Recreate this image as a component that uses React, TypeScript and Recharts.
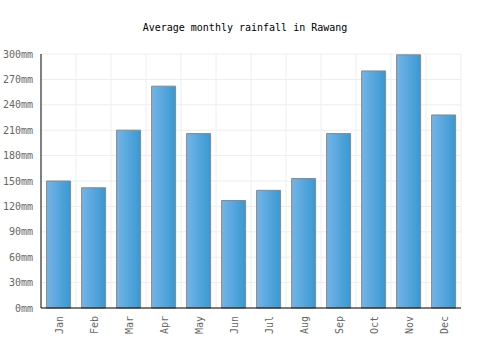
import React from 'react';
import { BarChart, Bar, XAxis, YAxis, CartesianGrid } from 'recharts';

const months = ['Jan', 'Feb', 'Mar', 'Apr', 'May', 'Jun', 'Jul', 'Aug', 'Sep', 'Oct', 'Nov', 'Dec'];
const rainfall = [150, 142, 210, 262, 206, 127, 139, 153, 206, 280, 299, 228];
const yTicks = [0, 30, 60, 90, 120, 150, 180, 210, 240, 270, 300];

const data = months.map((m, i) => ({ month: m, rain: rainfall[i] }));

const FONT = '"DejaVu Sans Mono", monospace';

const MonthTick = ({ x, y, payload }: any) => (
  <text
    x={x}
    y={y}
    transform={`rotate(-90 ${x} ${y})`}
    dx={0}
    dy={4}
    textAnchor="end"
    fontFamily={FONT}
    fontSize={10}
    fill="#666"
  >
    {payload.value}
  </text>
);

export default function App() {
  return (
    <div style={{ position: 'absolute', left: 0, top: 0, width: 500, height: 350, background: '#fff' }}>
      <div
        style={{
          position: 'absolute',
          top: 22,
          width: 490,
          textAlign: 'center',
          fontFamily: FONT,
          fontSize: 10,
          color: '#000',
        }}
      >
        Average monthly rainfall in Rawang
      </div>
      <BarChart
        width={500}
        height={350}
        data={data}
        margin={{ top: 54, right: 39, bottom: 0, left: 0 }}
        barCategoryGap="16%"
      >
        <defs>
          <linearGradient id="barFill" x1="0" y1="0" x2="1" y2="0">
            <stop offset="0%" stopColor="#72b5e9" />
            <stop offset="100%" stopColor="#3a98d1" />
          </linearGradient>
        </defs>
        <CartesianGrid
          stroke="#eeeeee"
          verticalCoordinatesGenerator={({ offset }: any) =>
            months.map((_, i) => offset.left + ((i + 1) * offset.width) / months.length)
          }
        />
        <XAxis
          dataKey="month"
          height={42}
          interval={0}
          tickLine={false}
          axisLine={{ stroke: '#000' }}
          tick={<MonthTick />}
        />
        <YAxis
          width={41}
          domain={[0, 300]}
          ticks={yTicks}
          interval={0}
          tickLine={false}
          tickSize={0}
          tickMargin={8}
          axisLine={{ stroke: '#000' }}
          tickFormatter={(v: number) => `${v}mm`}
          tick={{ fontFamily: FONT, fontSize: 10, fill: '#666' }}
        />
        <Bar dataKey="rain" fill="url(#barFill)" stroke="#888" strokeWidth={1} isAnimationActive={false} />
      </BarChart>
    </div>
  );
}
